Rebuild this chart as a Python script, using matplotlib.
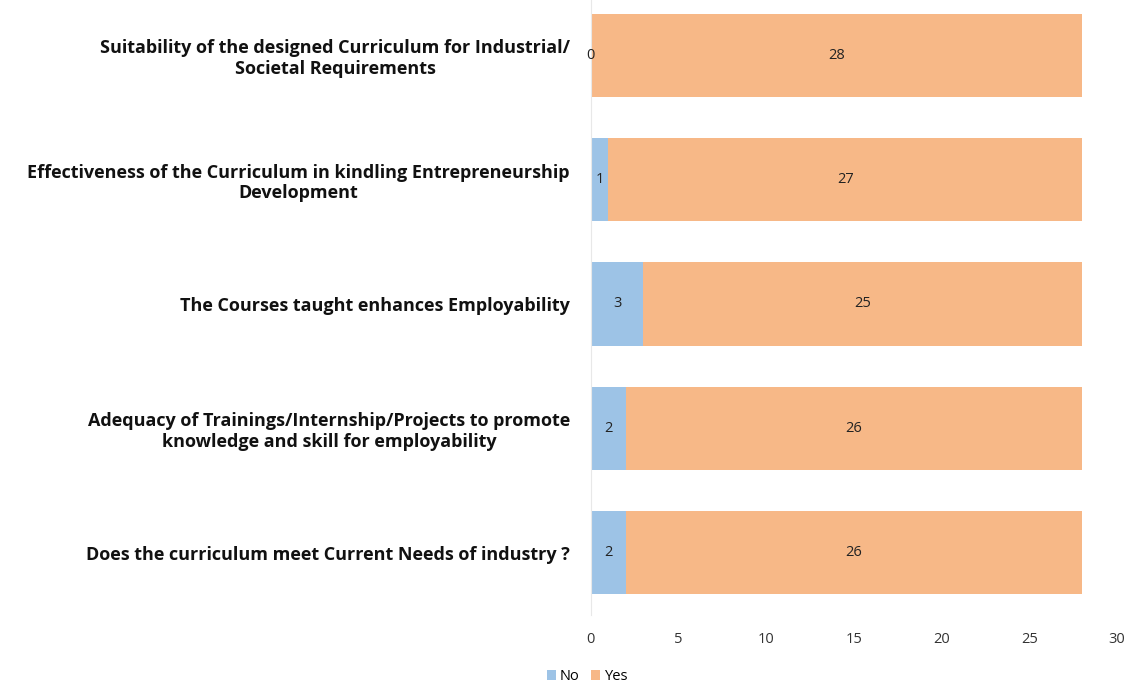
import matplotlib
matplotlib.use("Agg")
import matplotlib.pyplot as plt
import numpy as np

categories = [
    "Does the curriculum meet Current Needs of industry ?",
    "Adequacy of Trainings/Internship/Projects to promote\nknowledge and skill for employability",
    "The Courses taught enhances Employability",
    "Effectiveness of the Curriculum in kindling Entrepreneurship\nDevelopment",
    "Suitability of the designed Curriculum for Industrial/\nSocietal Requirements",
]
no_vals = [2, 2, 3, 1, 0]
yes_vals = [26, 26, 25, 27, 28]
xticks = [0, 5, 10, 15, 20, 25, 30]

plt.rcParams['font.family'] = ['Open Sans', 'DejaVu Sans']

fig = plt.figure(figsize=(11.34, 6.87), dpi=100)
ax = fig.add_axes([0.521, 0.105, 0.464, 0.905])

y = np.arange(len(categories))
blue = "#9dc3e6"
orange = "#f7b887"
b1 = ax.barh(y, no_vals, height=0.67, color=blue, label="No")
b2 = ax.barh(y, yes_vals, left=no_vals, height=0.67, color=orange, label="Yes")

for yi, n, ye in zip(y, no_vals, yes_vals):
    ax.text(n / 2, yi, str(n), ha="center", va="center", fontsize=10.5, color="#222222")
    ax.text(n + ye / 2, yi, str(ye), ha="center", va="center", fontsize=10.5, color="#222222")

ax.set_xlim(0, 30)
ax.set_ylim(-0.5, len(categories) - 0.5)
ax.set_xticks(xticks)
ax.set_xticklabels([str(t) for t in xticks], fontsize=10.5, color="#333333")
ax.set_yticks(y)
ax.set_yticklabels(categories, fontsize=13, fontweight="bold", color="#111111",
                   ha="right", multialignment="center")
ax.tick_params(axis="y", length=0, pad=15)
ax.tick_params(axis="x", length=0, pad=12)
for s in ["top", "right", "bottom"]:
    ax.spines[s].set_visible(False)
ax.spines["left"].set_color("#e8e8e8")

fig.legend(handles=[b1, b2], labels=["No", "Yes"], loc="center", bbox_to_anchor=(0.518, 0.015),
           ncol=2, frameon=False, fontsize=10.5, handlelength=0.6, handleheight=0.6,
           columnspacing=0.8, handletextpad=0.3)

fig.savefig("out.png", dpi=100)
